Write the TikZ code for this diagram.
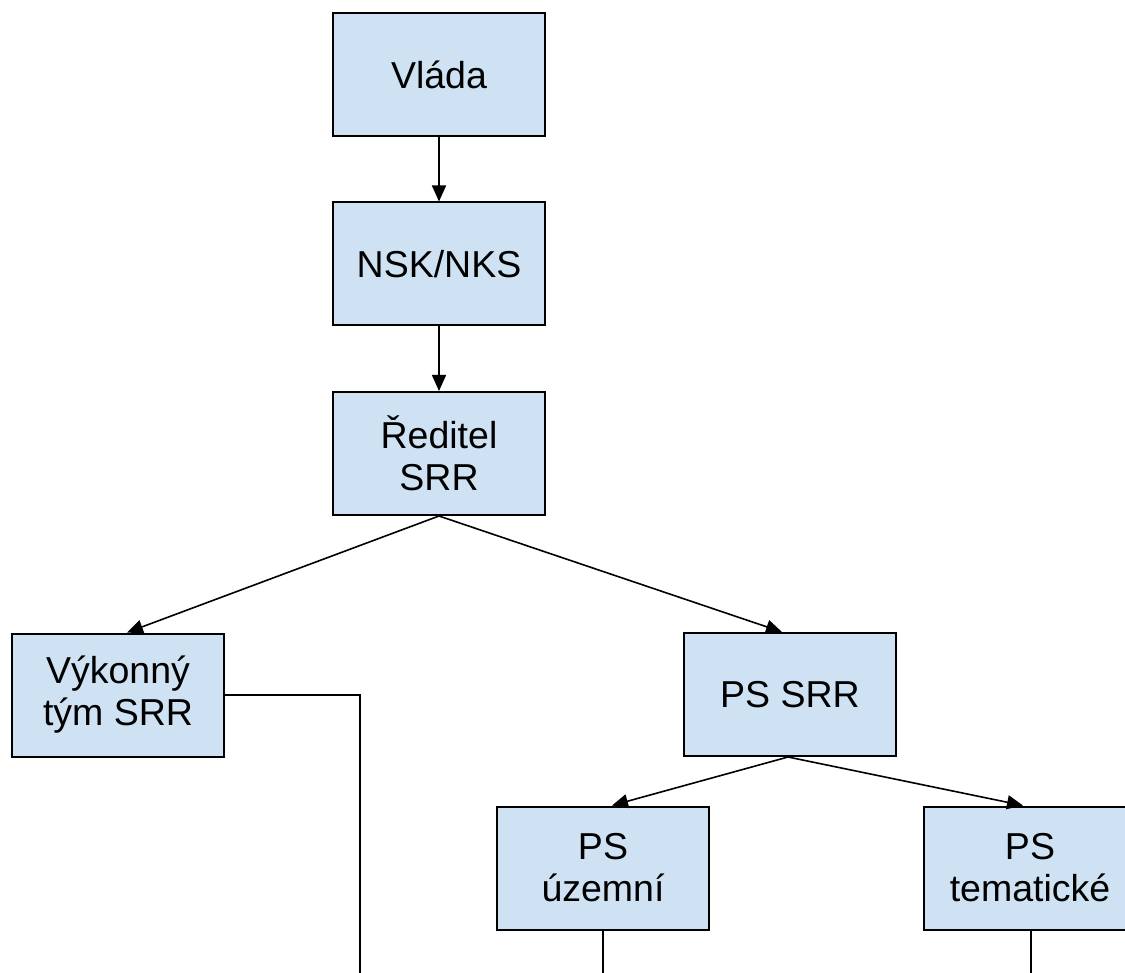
\documentclass[tikz,border=0pt]{standalone}
\usepackage{fontspec}
\setmainfont{Liberation Sans}
\usetikzlibrary{arrows.meta}
\definecolor{boxfill}{HTML}{CFE2F3}
\begin{document}
\begin{tikzpicture}[x=1pt,y=-1pt,
  orgbox/.style={draw=black, line width=2pt, fill=boxfill, rectangle,
    minimum width=212pt, minimum height=123pt, inner sep=0pt, align=center,
    font=\fontsize{37.5}{42}\selectfont},
  link/.style={line width=1.6pt, -{Triangle[length=16pt,width=14pt]}},
  plain/.style={line width=1.6pt}]
\useasboundingbox (0,0) rectangle (1125,973);
\clip (0,0) rectangle (1125,973);
\node[orgbox] (vlada) at (439,75) {Vláda};
\node[orgbox] (nsk) at (439,264) {NSK/NKS};
\node[orgbox] (red) at (439,453.5) {Ředitel\\SRR};
\node[orgbox] (vyk) at (118,695) {Výkonný\\tým SRR};
\node[orgbox] (pssrr) at (790,694.5) {PS SRR};
\node[orgbox] (psuz) at (603,868) {PS\\územní};
\node[orgbox] (pstem) at (1030,868) {PS\\tematické};
\coordinate (e1) at (360,973);
\coordinate (e2) at (603,973);
\coordinate (e3) at (1031,973);
\draw[link] (vlada.south) -- (nsk.north);
\draw[link] (nsk.south) -- (red.north);
\draw[link] (red.south) -- ([xshift=9pt]vyk.north);
\draw[link] (red.south) -- ([xshift=-8pt]pssrr.north);
\draw[link] ([xshift=-2pt]pssrr.south) -- ([xshift=9pt]psuz.north);
\draw[link] ([xshift=-2pt]pssrr.south) -- ([xshift=-7pt]pstem.north);
\draw[plain] (vyk.east) -| (e1);
\draw[plain] (psuz.south) -- (e2);
\draw[plain] ([xshift=1pt]pstem.south) -- (e3);
\end{tikzpicture}
\end{document}
